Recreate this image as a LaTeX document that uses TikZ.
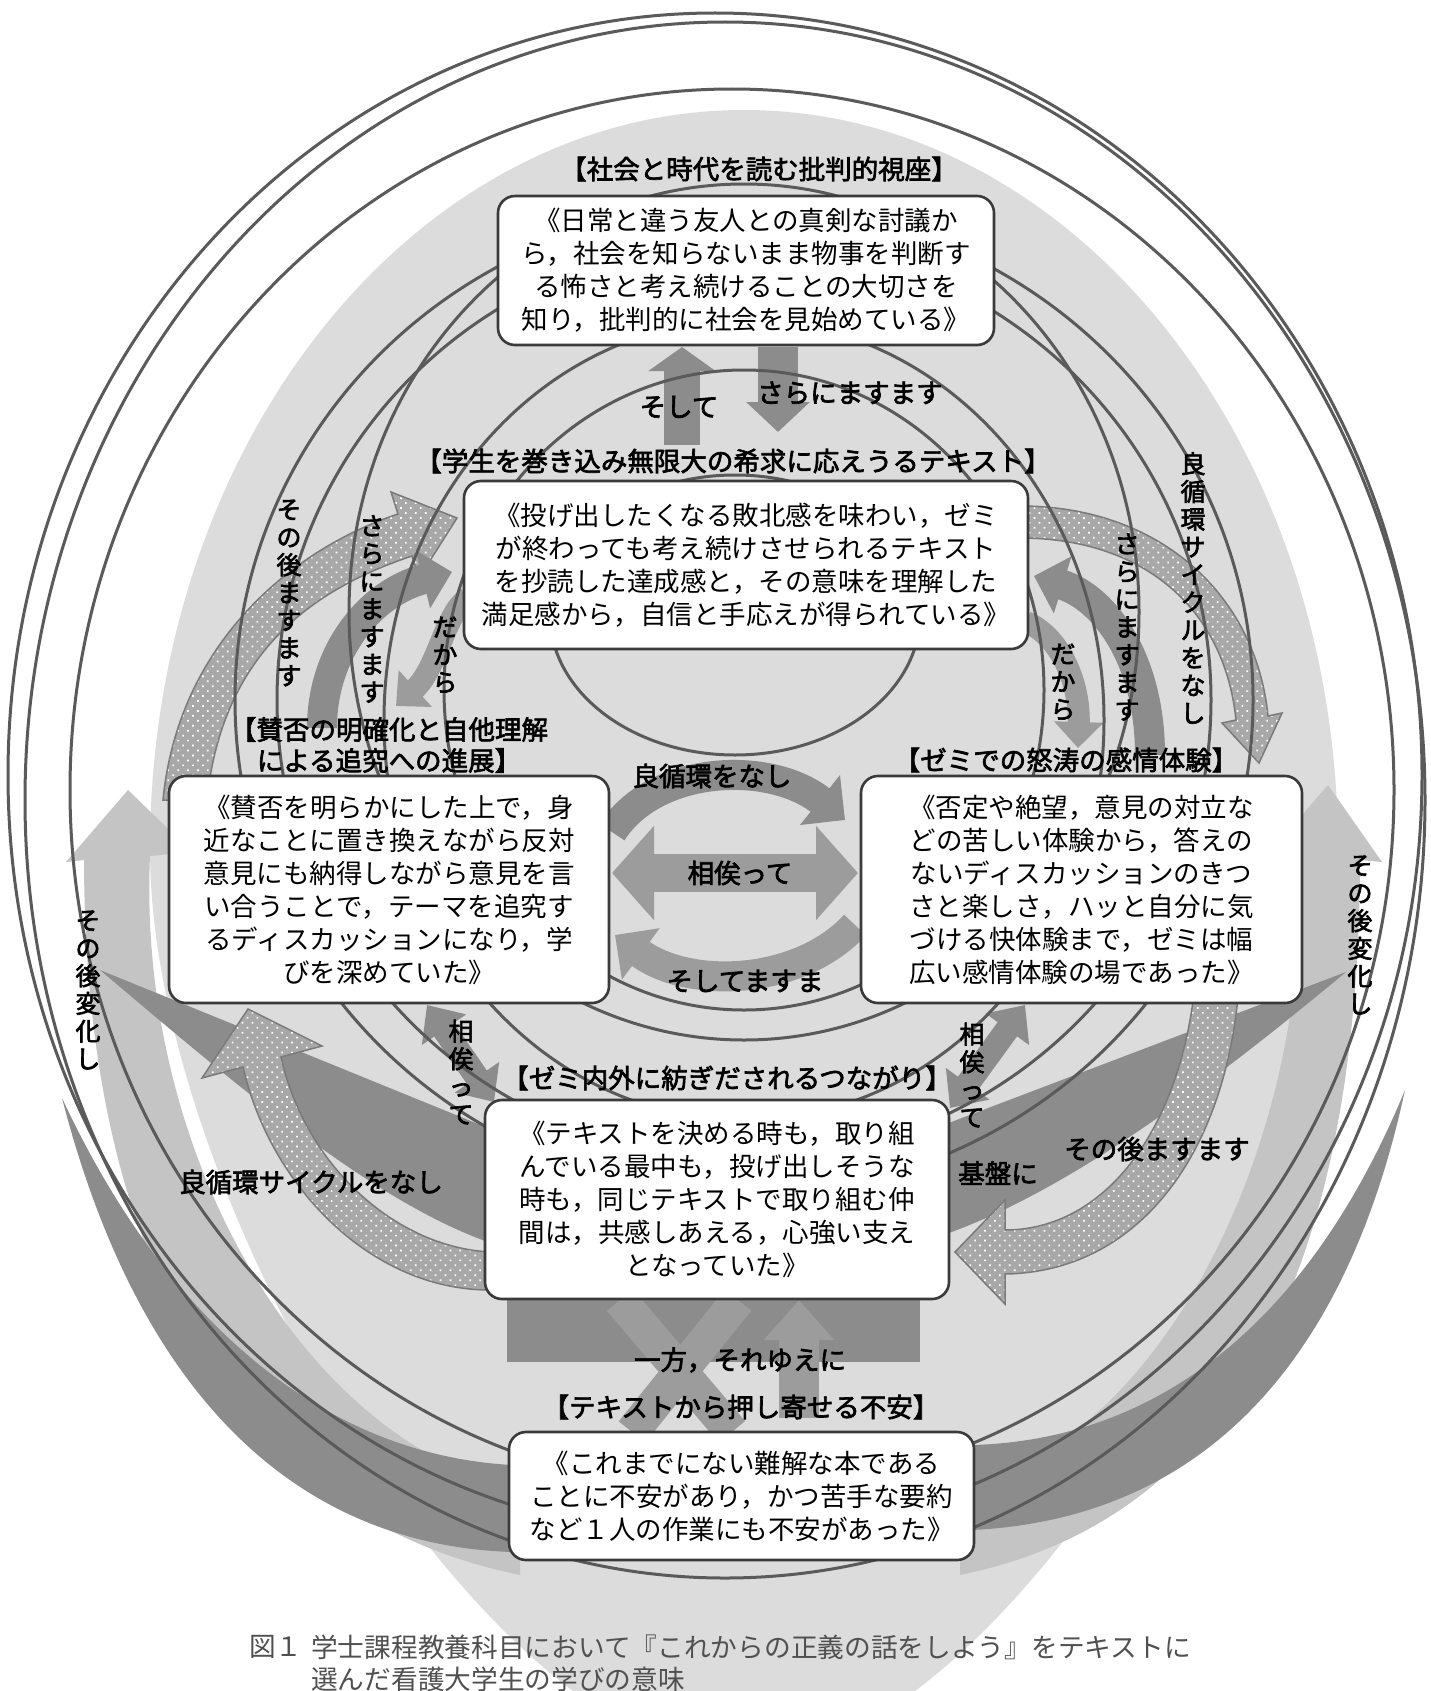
\documentclass[tikz,border=0pt]{standalone}
\usepackage{fontspec}
\setmainfont{Noto Sans CJK JP}[AutoFakeBold=2.5]
\usetikzlibrary{arrows.meta,patterns.meta}
\definecolor{eggc}{HTML}{DCDCDC}
\definecolor{lbandc}{HTML}{C4C4C4}
\definecolor{darkc}{HTML}{8C8C8C}
\definecolor{marr}{HTML}{9C9C9C}
\definecolor{elinec}{HTML}{5A5A5A}
\definecolor{dotbg}{HTML}{A8A8A8}
\definecolor{dotedge}{HTML}{7A7A7A}
\definecolor{boxc}{HTML}{3A3A3A}
\definecolor{capc}{HTML}{505050}
\begin{document}
\begin{tikzpicture}[x=1pt,y=-1pt,
  eline/.style={draw=elinec, line width=3},
  cbox/.style={draw=boxc, line width=2.6, fill=white, rounded corners=17, inner sep=0pt, align=center, font=\fontsize{26.5}{33}\selectfont},
  lab/.style={font=\fontsize{26.5}{31}\selectfont\bfseries, inner sep=0pt, align=center},
  vlab/.style={font=\fontsize{25}{27.7}\selectfont\bfseries, inner sep=0pt, align=center},
  dotarr/.style={preaction={fill=dotbg}, pattern={Dots[distance=7pt,radius=1.2pt,angle=45]}, pattern color=white, draw=dotedge, line width=1.5}
]
\useasboundingbox (0,0) rectangle (1430,1691);
\clip (0,0) rectangle (1430,1691);
\fill[white] (0,0) rectangle (1430,1691);
% light egg
\fill[eggc] (150,850) .. controls (150,441) and (416,110) .. (744,110) .. controls (1072,110) and (1338,441) .. (1338,850) .. controls (1338,1200) and (1000,1760) .. (744,1760) .. controls (488,1760) and (150,1200) .. (150,850) -- cycle;
% light big arrows (その後変化し)
\fill[lbandc] (520,1575) .. controls (300,1530) and (85,1350) .. (84,860) -- (66,862) -- (128,790) -- (192,852) -- (150,856) .. controls (137,1150) and (300,1440) .. (520,1490) -- cycle;
\fill[lbandc] (960,1575) .. controls (1180,1530) and (1358,1350) .. (1360,860) -- (1382,862) -- (1328,785) -- (1270,852) -- (1300,856) .. controls (1310,1150) and (1160,1440) .. (960,1490) -- cycle;
% dark bands
\fill[darkc] (512,1552) .. controls (300,1545) and (140,1400) .. (62,1098) .. controls (170,1330) and (330,1455) .. (512,1465) -- cycle;
\fill[darkc] (972,1530) .. controls (1180,1520) and (1340,1390) .. (1405,1090) .. controls (1310,1320) and (1160,1440) .. (972,1445) -- cycle;
% dark wedges
\fill[darkc] (488,1128) -- (100,970) .. controls (230,1080) and (370,1200) .. (488,1242) -- cycle;
\fill[darkc] (946,1124) -- (1346,972) .. controls (1210,1085) and (1070,1190) .. (946,1234) -- cycle;
% rectangle and arrows under bottom box
\fill[darkc] (507,1299) rectangle (920,1362);
\draw[marr, line width=34] (632,1432) -- (738,1300);
\draw[marr, line width=34] (732,1432) -- (620,1300);
\draw[marr, line width=40, -{Triangle[width=68pt,length=40pt]}] (799,1418) -- (799,1300);
% dotted arrows
\path[dotarr] (163,800) .. controls (178,645) and (290,550) .. (398,514) -- (391,492) -- (457,518) -- (419,578) -- (412,556) .. controls (310,590) and (222,655) .. (207,800) -- cycle;
\path[dotarr] (1020,506) .. controls (1160,506) and (1256,595) .. (1268,716) -- (1282,713) -- (1259,763) -- (1222,723) -- (1236,720) .. controls (1224,605) and (1140,538) .. (1020,538) -- cycle;
\path[dotarr] (490,1252) .. controls (395,1247) and (305,1165) .. (281,1057) -- (322,1046) -- (248,1009) -- (202,1078) -- (243,1067) .. controls (270,1185) and (370,1290) .. (490,1290) -- cycle;
\path[dotarr] (1194,993) .. controls (1178,1130) and (1105,1230) .. (1005,1230) -- (1005,1200) -- (955,1252) -- (1005,1304) -- (1005,1274) .. controls (1135,1272) and (1222,1160) .. (1238,997) -- cycle;
% gray arrows
\draw[darkc, line width=36, -{Triangle[width=66pt,length=24pt]}] (682,445) -- (682,347);
\draw[darkc, line width=40, -{Triangle[width=62pt,length=30pt]}] (778,347) -- (778,432);
\draw[darkc, line width=30, -{Triangle[width=58pt,length=30pt]}] (322,728) .. controls (322,650) and (372,592) .. (452,572);
\draw[marr, line width=22, -{Triangle[width=48pt,length=26pt]}] (468,598) .. controls (445,612) and (438,668) .. (396,706);
\draw[darkc, line width=30, -{Triangle[width=58pt,length=30pt]}] (1150,755) .. controls (1150,660) and (1105,598) .. (1034,576);
\draw[marr, line width=22, -{Triangle[width=48pt,length=26pt]}] (1026,622) .. controls (1058,635) and (1080,680) .. (1078,748);
\draw[darkc, line width=30, -{Triangle[width=62pt,length=32pt]}] (612,832) .. controls (655,765) and (770,760) .. (845,820);
\draw[marr, line width=38, {Triangle[width=92pt,length=42pt]}-{Triangle[width=92pt,length=42pt]}] (612,873) -- (858,873);
\draw[marr, line width=30, -{Triangle[width=62pt,length=32pt]}] (855,925) .. controls (800,985) and (690,990) .. (615,935);
\draw[darkc, line width=24, {Triangle[width=52pt,length=30pt]}-{Triangle[width=52pt,length=30pt]}] (427,1005) -- (494,1102);
\draw[darkc, line width=24, {Triangle[width=52pt,length=30pt]}-{Triangle[width=52pt,length=30pt]}] (1025,1005) -- (950,1108);
% ellipse lines
\draw[eline] (715,775) ellipse [x radius=707, y radius=762];
\draw[eline] (725,800) ellipse [x radius=700, y radius=778];
\draw[eline] (732,790) ellipse [x radius=662, y radius=701];
\draw[eline] (744,700) ellipse [x radius=509, y radius=495];
\draw[eline] (744,700) ellipse [x radius=467, y radius=460];
\draw[eline] (744,720) ellipse [x radius=360, y radius=400];
\draw[eline] (744,612) ellipse [x radius=395, y radius=428];
\draw[eline] (744,690) ellipse [x radius=300, y radius=320];
\draw[eline] (735,615) ellipse [x radius=185, y radius=140];
% boxes
\node[cbox, minimum width=496, minimum height=149] (top) at (746,270.5) {《日常と違う友人との真剣な討議か\\ら，社会を知らないまま物事を判断す\\る怖さと考え続けることの大切さを\\知り，批判的に社会を見始めている》};
\node[cbox, minimum width=564, minimum height=168] (text) at (746,565) {《投げ出したくなる敗北感を味わい，ゼミ\\が終わっても考え続けさせられるテキスト\\を抄読した達成感と，その意味を理解した\\満足感から，自信と手応えが得られている》};
\node[cbox, minimum width=440, minimum height=227] (left) at (389,889.5) {《賛否を明らかにした上で，身\\近なことに置き換えながら反対\\意見にも納得しながら意見を言\\い合うことで，テーマを追究す\\るディスカッションになり，学\\びを深めていた》};
\node[cbox, minimum width=441, minimum height=227] (right) at (1081.5,889.5) {《否定や絶望，意見の対立な\\どの苦しい体験から，答えの\\ないディスカッションのきつ\\さと楽しさ，ハッと自分に気\\づける快体験まで，ゼミは幅\\広い感情体験の場であった》};
\node[cbox, minimum width=464, minimum height=199] (bottom) at (717,1199.5) {《テキストを決める時も，取り組\\んでいる最中も，投げ出しそうな\\時も，同じテキストで取り組む仲\\間は，共感しあえる，心強い支え\\となっていた》};
\node[cbox, minimum width=465, minimum height=128] (lowest) at (741.5,1496) {《これまでにない難解な本である\\ことに不安があり，かつ苦手な要約\\など１人の作業にも不安があった》};
% bracket labels
\node[lab] (ltop) at (759,169) {【社会と時代を読む批判的視座】};
\node[lab] (ltext) at (733,461) {【学生を巻き込み無限大の希求に応えうるテキスト】};
\node[lab] (lleft) at (389,745) {【賛否の明確化と自他理解\\による追究への進展】};
\node[lab] (lright) at (1066,760) {【ゼミでの怒涛の感情体験】};
\node[lab] (lbottom) at (727,1078) {【ゼミ内外に紡ぎだされるつながり】};
\node[lab] (llowest) at (741,1407) {【テキストから押し寄せる不安】};
% arrow labels
\node[lab] (a1) at (679,407) {そして};
\node[lab] (a2) at (850,393) {さらにますます};
\node[lab] (a3) at (712,776) {良循環をなし};
\node[lab] (a4) at (740,873) {相俟って};
\node[lab] (a5) at (745,981) {そしてますま};
\node[lab] (a6) at (311,1182) {良循環サイクルをなし};
\node[lab] (a7) at (998,1173) {基盤に};
\node[lab] (a8) at (1157,1149) {その後ますます};
\node[lab] (a9) at (740,1360) {一方，それゆえに};
\node[vlab] (v1) at (289,593) {そ\\の\\後\\ま\\す\\ま\\す};
\node[vlab] (v2) at (372,609) {さ\\ら\\に\\ま\\す\\ま\\す};
\node[vlab] (v3) at (445,655) {だ\\か\\ら};
\node[vlab] (v4) at (1063,682) {だ\\か\\ら};
\node[vlab] (v5) at (1127,627) {さ\\ら\\に\\ま\\す\\ま\\す};
\node[vlab] (v6) at (1193,588) {良\\循\\環\\サ\\イ\\ク\\ル\\を\\な\\し};
\node[vlab] (v7) at (461,1072) {相\\俟\\っ\\て};
\node[vlab] (v8) at (972,1075) {相\\俟\\っ\\て};
\node[vlab] (v9) at (88,990) {そ\\の\\後\\変\\化\\し};
\node[vlab] (v10) at (1360,935) {そ\\の\\後\\変\\化\\し};
% caption
\node[anchor=west, inner sep=0pt, text=capc, font=\fontsize{26.7}{30}\selectfont] (fig) at (249,1647) {図１};
\node[anchor=west, inner sep=0pt, text=capc, font=\fontsize{26.7}{30}\selectfont] (cap1) at (311,1647) {学士課程教養科目において『これからの正義の話をしよう』をテキストに};
\node[anchor=west, inner sep=0pt, text=capc, font=\fontsize{26.7}{30}\selectfont] (cap2) at (311,1679) {選んだ看護大学生の学びの意味};
\end{tikzpicture}
\end{document}
